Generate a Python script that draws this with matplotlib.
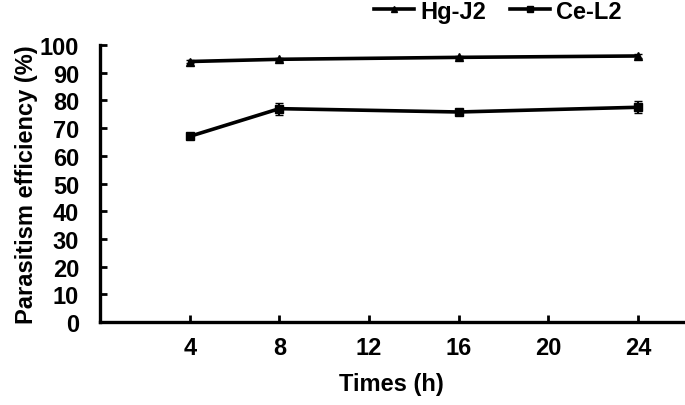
import matplotlib
matplotlib.use("Agg")
import matplotlib.pyplot as plt
from matplotlib.lines import Line2D

times = [4, 8, 16, 24]
hg_j2 = [94.0, 94.8, 95.5, 96.0]
hg_j2_err = [0.5, 0.5, 0.6, 0.8]
ce_l2 = [67.0, 77.0, 75.8, 77.5]
ce_l2_err = [0.8, 2.2, 0.8, 2.2]
xticks = [4, 8, 12, 16, 20, 24]
yticks = [0, 10, 20, 30, 40, 50, 60, 70, 80, 90, 100]

plt.rcParams['font.family'] = ['Liberation Sans', 'DejaVu Sans']
plt.rcParams['font.weight'] = 'bold'

fig = plt.figure(figsize=(6.85, 4.06), dpi=100)
ax = fig.add_axes([0.146, 0.204, 0.851, 0.683])

ax.errorbar(times, hg_j2, yerr=hg_j2_err, color='black', lw=2.6, marker='^',
            ms=6, capsize=3, elinewidth=1.5)
ax.errorbar(times, ce_l2, yerr=ce_l2_err, color='black', lw=2.6, marker='s',
            ms=6, capsize=3, elinewidth=1.5)

ax.set_xlim(0, 26)
ax.set_ylim(0, 100)
ax.set_xticks(xticks)
ax.set_yticks(yticks)
ax.spines['top'].set_visible(False)
ax.spines['right'].set_visible(False)
for s in ['left', 'bottom']:
    ax.spines[s].set_linewidth(2.4)
ax.tick_params(direction='in', length=5, width=2, labelsize=17)
ax.tick_params(axis='y', pad=15)
ax.tick_params(axis='x', pad=10)
for lab in ax.get_xticklabels() + ax.get_yticklabels():
    lab.set_fontweight('bold')

ax.set_xlabel('Times (h)', fontsize=17, fontweight='bold', labelpad=9)
ax.set_ylabel('Parasitism efficiency (%)', fontsize=17, fontweight='bold', labelpad=1)

handles = [Line2D([], [], color='black', lw=2.6, marker='^', ms=5),
           Line2D([], [], color='black', lw=2.6, marker='s', ms=5)]
leg = ax.legend(handles, ['Hg-J2', 'Ce-L2'], loc='lower left',
                bbox_to_anchor=(0.47, 1.08), ncol=2, frameon=False,
                fontsize=17, handlelength=1.7, columnspacing=1.0, handletextpad=0.25,
                borderaxespad=0, borderpad=0)
for t in leg.get_texts():
    t.set_fontweight('bold')

fig.savefig('out.png', dpi=100)
